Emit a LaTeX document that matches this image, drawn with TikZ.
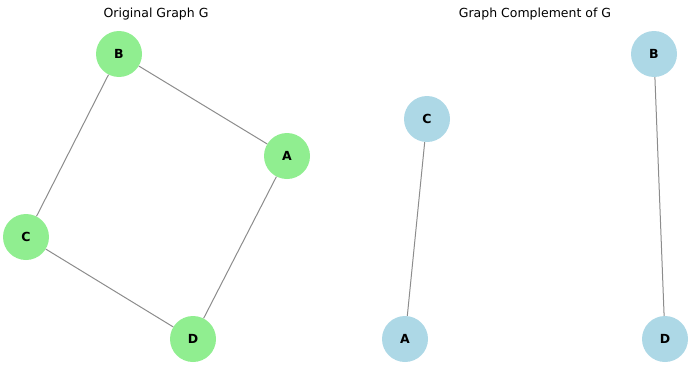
\documentclass[tikz,border=0pt]{standalone}
\usepackage{fontspec}
\setmainfont{DejaVu Sans}
\usepackage{tikz}
\usetikzlibrary{positioning}
\definecolor{nodegreen}{HTML}{90EE90}
\definecolor{nodeblue}{HTML}{ADD8E6}
\definecolor{edgegray}{HTML}{8C8C8C}
\tikzset{
    vert/.style={circle, minimum size=46pt, inner sep=0pt, font=\bfseries\fontsize{12.5}{14}\selectfont},
    gvert/.style={vert, fill=nodegreen},
    cvert/.style={vert, fill=nodeblue},
    edge/.style={draw=edgegray, line width=1pt}
}
\begin{document}
\begin{tikzpicture}[x=1pt, y=-1pt]
    \useasboundingbox (0,0) rectangle (700,372);
    % original graph
    \node (t1) at (156,14) {\fontsize{12.5}{14}\selectfont Original Graph G};
    \node[gvert] (gB) at (119,54) {B};
    \node[gvert] (gA) at (287,156) {A};
    \node[gvert] (gC) at (26,237) {C};
    \node[gvert] (gD) at (193,339) {D};
    \draw[edge] (gB) -- (gA);
    \draw[edge] (gB) -- (gC);
    \draw[edge] (gC) -- (gD);
    \draw[edge] (gA) -- (gD);
    % complement
    \node (t2) at (535,14) {\fontsize{12.5}{14}\selectfont Graph Complement of G};
    \node[cvert] (cC) at (427,119) {C};
    \node[cvert] (cB) at (654,54) {B};
    \node[cvert] (cA) at (405,339) {A};
    \node[cvert] (cD) at (665,339) {D};
    \draw[edge] (cC) -- (cA);
    \draw[edge] (cB) -- (cD);
\end{tikzpicture}
\end{document}
